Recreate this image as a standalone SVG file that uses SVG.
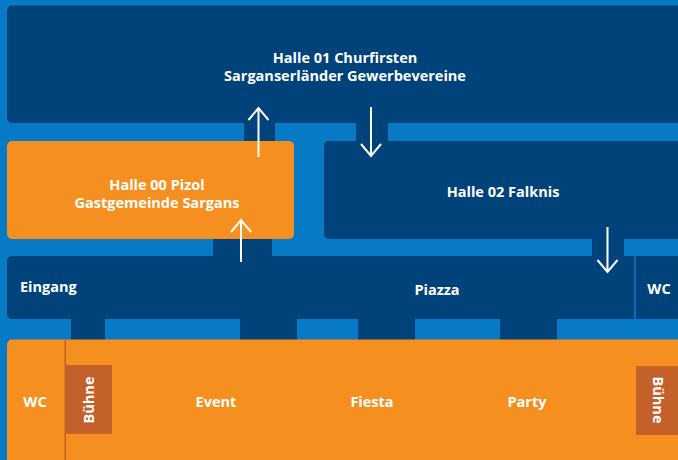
<svg xmlns="http://www.w3.org/2000/svg" width="678" height="460" viewBox="0 0 678 460">
<defs>
<style>
.bg{fill:#0879c4}
.dark{fill:#00427a}
.orange{fill:#f58f1f}
.brown{fill:#c4602a}
.t{font-family:"Open Sans","Liberation Sans",sans-serif;font-weight:700;font-size:14.5px;fill:#ffffff;text-anchor:middle;dominant-baseline:central}
.arr{stroke:#ffffff;stroke-width:2;fill:none}
</style>
</defs>
<rect class="bg" x="0" y="0" width="678" height="460"/>
<g id="passages">
<rect class="dark" x="244" y="118" width="31" height="28"/>
<rect class="dark" x="356" y="118" width="32" height="28"/>
<rect class="dark" x="213" y="234" width="59" height="26"/>
<rect class="dark" x="592" y="234" width="32" height="26"/>
<rect class="dark" x="71" y="314" width="34" height="30"/>
<rect class="dark" x="240" y="314" width="57" height="30"/>
<rect class="dark" x="358" y="314" width="57" height="30"/>
<rect class="dark" x="500" y="314" width="57" height="30"/>
</g>
<g id="halle01">
<rect class="dark" x="7" y="5.5" width="680" height="117.5" rx="5"/>
<text class="t" x="345" y="57">Halle 01 Churfirsten</text>
<text class="t" x="345" y="75">Sarganserländer Gewerbevereine</text>
</g>
<g id="halle00">
<rect class="orange" x="7" y="141" width="287" height="98" rx="5"/>
<text class="t" x="157" y="184">Halle 00 Pizol</text>
<text class="t" x="157" y="202">Gastgemeinde Sargans</text>
</g>
<g id="halle02">
<rect class="dark" x="324" y="141" width="363" height="98" rx="5"/>
<text class="t" x="503" y="191">Halle 02 Falknis</text>
</g>
<g id="piazza">
<rect class="dark" x="7" y="256" width="680" height="63" rx="5"/>
<text class="t" x="20" y="286" style="text-anchor:start">Eingang</text>
<text class="t" x="437" y="289">Piazza</text>
</g>
<g id="wc-top">
<rect x="634" y="256" width="2" height="63" fill="#0a6db3"/>
<text class="t" x="659" y="288">WC</text>
</g>
<g id="halle-unten">
<rect class="orange" x="7" y="339.5" width="680" height="130" rx="5"/>
<rect x="64.5" y="339.5" width="1.5" height="121" fill="#c4602a"/>
<text class="t" x="35" y="401">WC</text>
<text class="t" x="216" y="401">Event</text>
<text class="t" x="372" y="401">Fiesta</text>
<text class="t" x="527" y="401">Party</text>
</g>
<g id="buehne-links">
<rect class="brown" x="66" y="365" width="46" height="69"/>
<text class="t" transform="translate(88 400) rotate(-90)" x="0" y="0">Bühne</text>
</g>
<g id="buehne-rechts">
<rect class="brown" x="636" y="366" width="50" height="69"/>
<text class="t" transform="translate(658 400) rotate(90)" x="0" y="0">Bühne</text>
</g>
<g id="connectors">
<path class="arr" d="M258.5 157 V108 M248.5 120 L258.5 108 L268.5 120"/>
<path class="arr" d="M371 107 V156 M361 144 L371 156 L381 144"/>
<path class="arr" d="M241 262 V220 M231 232 L241 220 L251 232"/>
<path class="arr" d="M607.5 227 V272 M597.5 260 L607.5 272 L617.5 260"/>
</g>
</svg>
